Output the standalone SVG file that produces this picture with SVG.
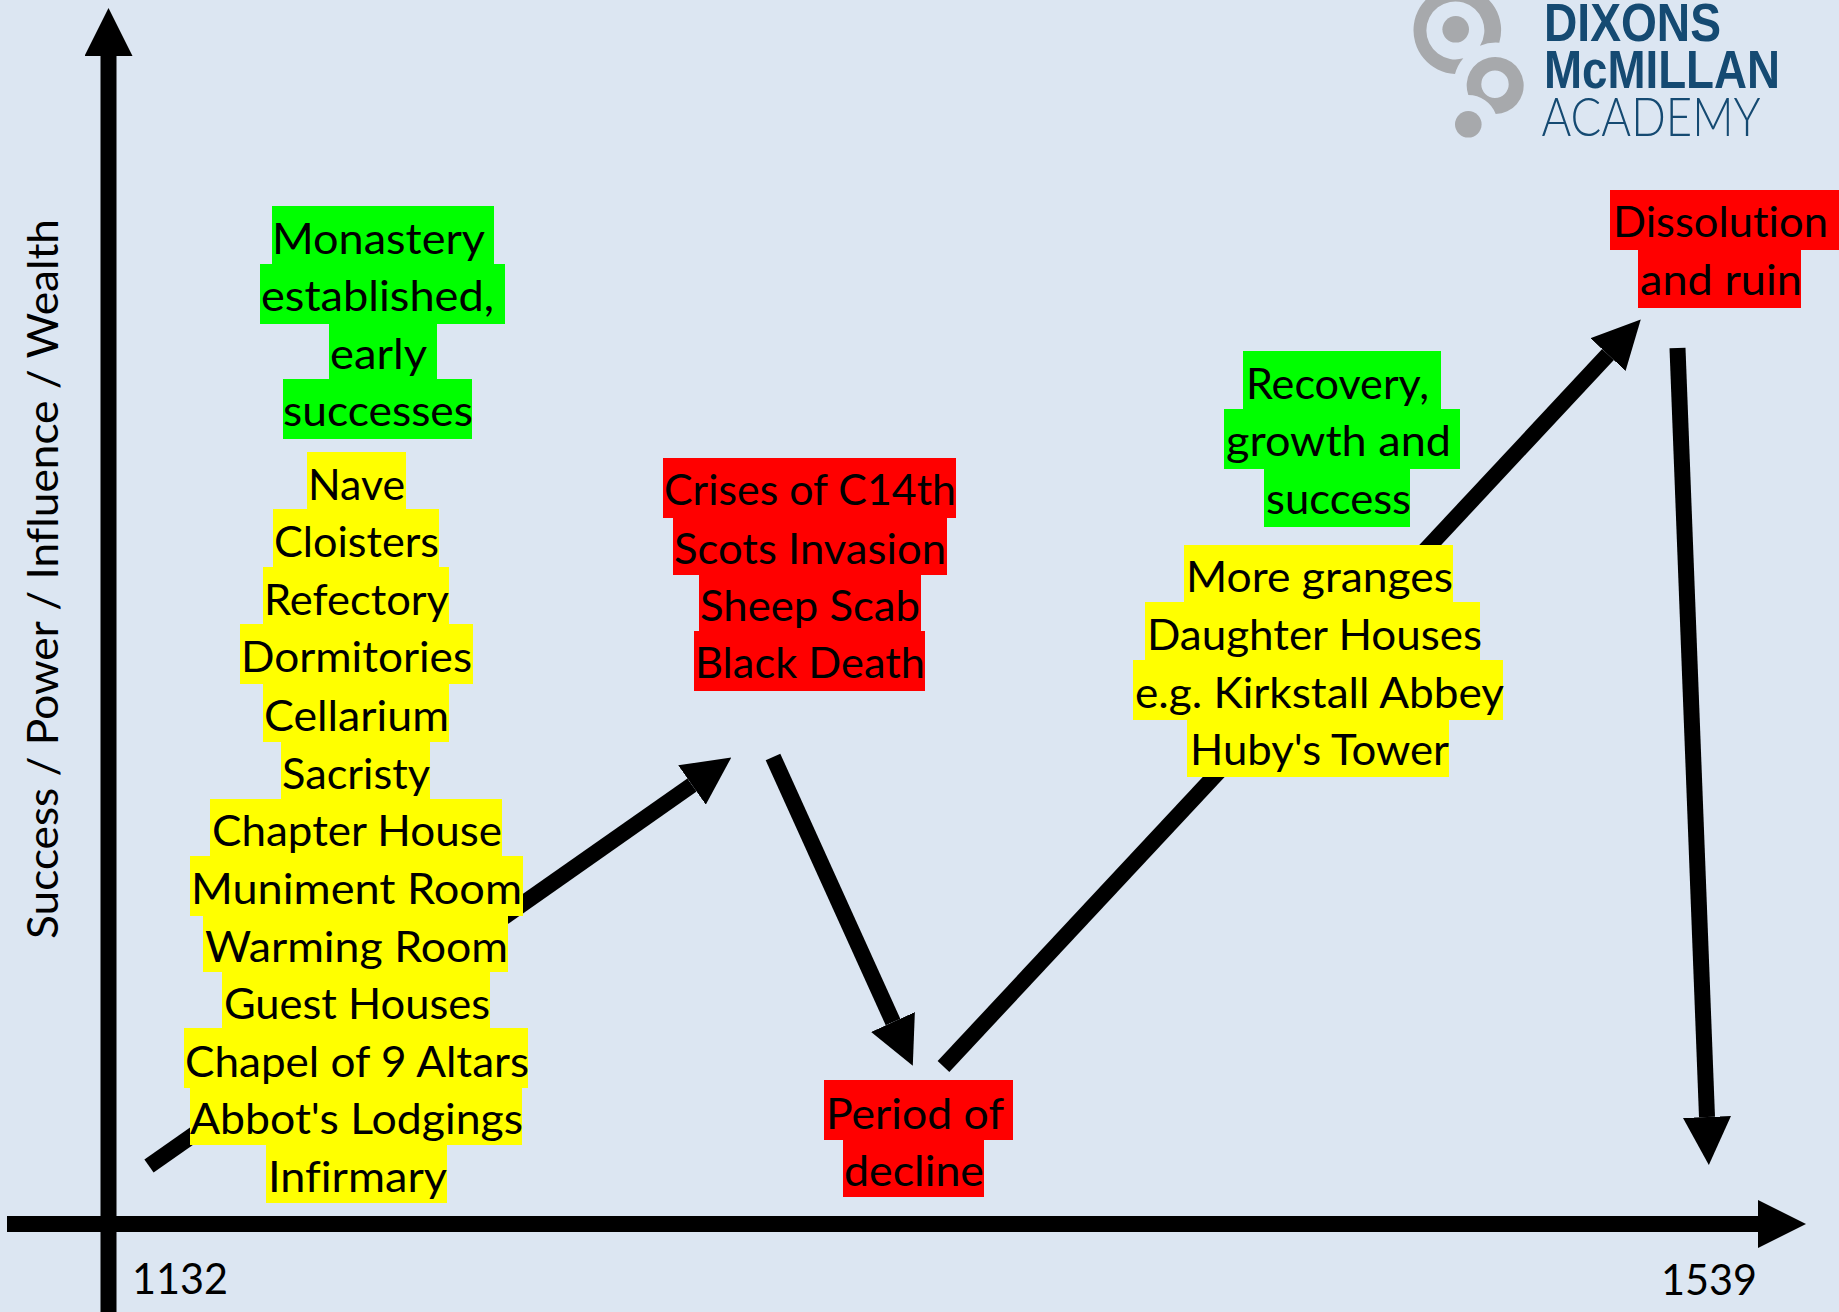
<svg xmlns="http://www.w3.org/2000/svg" width="1839" height="1312" viewBox="0 0 1839 1312">
<style>
text{font-family:Lato,"Liberation Sans",sans-serif;font-size:43px;fill:#000;font-variant-ligatures:none}
.g{fill:#00ff00}.y{fill:#ffff00}.r{fill:#ff0000}
.c{stroke:#000;stroke-width:16;fill:none;marker-end:url(#ah)}
.ld{fill:#a7a9ac;fill-rule:evenodd}
.b{font-family:"Liberation Sans",sans-serif;font-weight:700;font-size:53px;fill:#154a72}
.t{font-family:Lato,"Liberation Sans",sans-serif;font-weight:300;font-size:54px;fill:#154a72}
</style>
<defs>
<marker id="ah" viewBox="0 0 3 3" refX="0" refY="1.5" markerWidth="3" markerHeight="3" orient="auto" markerUnits="strokeWidth"><path d="M0,0L3,1.5L0,3z" fill="#000"/></marker>
</defs>
<rect width="1839" height="1312" fill="#dce6f2"/>
<g id="connectors">
<line class="c" x1="108.5" y1="1312" x2="108.5" y2="56"/>
<line class="c" x1="7" y1="1224" x2="1758" y2="1224"/>
<line class="c" x1="149" y1="1166" x2="692" y2="785"/>
<line class="c" x1="773" y1="757" x2="893" y2="1022"/>
<line class="c" x1="943.5" y1="1066.5" x2="1608" y2="354.5"/>
<line class="c" x1="1677.5" y1="348" x2="1707" y2="1117"/>
</g>
<g id="logo">
<path class="ld" d="M1499.3,42.7A43.8,43.8 0 1 0 1455,74A41.3,41.3 0 0 1 1463.3,58.3A29,29 0 1 1 1480,45.7A41.3,41.3 0 0 1 1499.3,42.7Z"/>
<path class="ld" d="M1468.3,95A28.5,28.5 0 1 1 1495.7,114A29.3,29.3 0 0 0 1468.3,95ZM1508.7,84.3A13.7,13.7 0 1 0 1481.3,84.3A13.7,13.7 0 1 0 1508.7,84.3Z"/>
<circle class="ld" cx="1455.7" cy="29.3" r="13.3"/>
<circle class="ld" cx="1468.3" cy="124.3" r="13.3"/>
<text class="b" x="1544" y="40.7" textLength="177" lengthAdjust="spacingAndGlyphs">DIXONS</text>
<text class="b" x="1544" y="88" textLength="236" lengthAdjust="spacingAndGlyphs">McMILLAN</text>
<text class="t" x="1541.5" y="135.7" textLength="219" lengthAdjust="spacingAndGlyphs">ACADEMY</text>
</g>
<g id="axis-labels">
<text transform="translate(58 939) rotate(-90)" textLength="720" lengthAdjust="spacingAndGlyphs">Success / Power / Influence / Wealth</text>
<text x="132" y="1294" textLength="96" lengthAdjust="spacingAndGlyphs">1132</text>
<text x="1661" y="1295" textLength="96" lengthAdjust="spacingAndGlyphs">1539</text>
</g>
<g id="monastery">
<rect class="g" x="272" y="206" width="222" height="58"/><rect class="g" x="260" y="264" width="245" height="60"/><rect class="g" x="329" y="324" width="108" height="55"/><rect class="g" x="283" y="379" width="189" height="60"/>
<text x="272" y="254" textLength="213" lengthAdjust="spacingAndGlyphs">Monastery</text>
<text x="261" y="311" textLength="233" lengthAdjust="spacingAndGlyphs">established,</text>
<text x="330" y="368.5" textLength="97" lengthAdjust="spacingAndGlyphs">early</text>
<text x="283" y="426" textLength="190" lengthAdjust="spacingAndGlyphs">successes</text>
</g>
<g id="buildings">
<rect class="y" x="307" y="452" width="99" height="57"/><rect class="y" x="273" y="509" width="166" height="58"/><rect class="y" x="263" y="567" width="186" height="57"/><rect class="y" x="240" y="624" width="233" height="60"/><rect class="y" x="263" y="684" width="186" height="58"/><rect class="y" x="281" y="742" width="149" height="57"/><rect class="y" x="210" y="799" width="292" height="57"/><rect class="y" x="190" y="856" width="333" height="60"/><rect class="y" x="203" y="916" width="305" height="56"/><rect class="y" x="222" y="972" width="268" height="56"/><rect class="y" x="184" y="1028" width="344" height="60"/><rect class="y" x="190" y="1088" width="332" height="57"/><rect class="y" x="266" y="1145" width="181" height="58"/>
<text x="308" y="499.6" textLength="97" lengthAdjust="spacingAndGlyphs">Nave</text>
<text x="274" y="557" textLength="165" lengthAdjust="spacingAndGlyphs">Cloisters</text>
<text x="264" y="614.6" textLength="185" lengthAdjust="spacingAndGlyphs">Refectory</text>
<text x="241" y="672" textLength="231" lengthAdjust="spacingAndGlyphs">Dormitories</text>
<text x="264" y="731" textLength="185" lengthAdjust="spacingAndGlyphs">Cellarium</text>
<text x="282" y="789" textLength="148" lengthAdjust="spacingAndGlyphs">Sacristy</text>
<text x="212" y="846" textLength="290" lengthAdjust="spacingAndGlyphs">Chapter House</text>
<text x="191" y="904" textLength="331" lengthAdjust="spacingAndGlyphs">Muniment Room</text>
<text x="205" y="962" textLength="303" lengthAdjust="spacingAndGlyphs">Warming Room</text>
<text x="224" y="1019" textLength="266" lengthAdjust="spacingAndGlyphs">Guest Houses</text>
<text x="185" y="1077" textLength="344" lengthAdjust="spacingAndGlyphs">Chapel of 9 Altars</text>
<text x="190" y="1134" textLength="333" lengthAdjust="spacingAndGlyphs">Abbot's Lodgings</text>
<text x="268" y="1192" textLength="179" lengthAdjust="spacingAndGlyphs">Infirmary</text>
</g>
<g id="crises">
<rect class="r" x="663" y="458" width="293" height="60"/><rect class="r" x="673" y="518" width="274" height="57"/><rect class="r" x="699" y="575" width="222" height="56"/><rect class="r" x="694" y="631" width="231" height="60"/>
<text x="664" y="505" textLength="292" lengthAdjust="spacingAndGlyphs">Crises of C14th</text>
<text x="674" y="563.7" textLength="272" lengthAdjust="spacingAndGlyphs">Scots Invasion</text>
<text x="700" y="621" textLength="220" lengthAdjust="spacingAndGlyphs">Sheep Scab</text>
<text x="695" y="678" textLength="230" lengthAdjust="spacingAndGlyphs">Black Death</text>
</g>
<g id="decline">
<rect class="r" x="824" y="1080" width="189" height="60"/><rect class="r" x="843" y="1140" width="141" height="57"/>
<text x="826" y="1128.7" textLength="178" lengthAdjust="spacingAndGlyphs">Period of</text>
<text x="844" y="1186" textLength="140" lengthAdjust="spacingAndGlyphs">decline</text>
</g>
<g id="recovery">
<rect class="g" x="1243" y="351" width="198" height="58"/><rect class="g" x="1224" y="409" width="236" height="60"/><rect class="g" x="1264" y="469" width="146" height="58"/>
<text x="1246" y="398.7" textLength="183" lengthAdjust="spacingAndGlyphs">Recovery,</text>
<text x="1226" y="456" textLength="225" lengthAdjust="spacingAndGlyphs">growth and</text>
<text x="1266" y="514" textLength="145" lengthAdjust="spacingAndGlyphs">success</text>
</g>
<g id="granges">
<rect class="y" x="1184" y="545" width="269" height="57"/><rect class="y" x="1145" y="602" width="335" height="58"/><rect class="y" x="1133" y="660" width="370" height="60"/><rect class="y" x="1187" y="720" width="262" height="57"/>
<text x="1186" y="592" textLength="267" lengthAdjust="spacingAndGlyphs">More granges</text>
<text x="1147" y="650" textLength="335" lengthAdjust="spacingAndGlyphs">Daughter Houses</text>
<text x="1135" y="708" textLength="369" lengthAdjust="spacingAndGlyphs">e.g. Kirkstall Abbey</text>
<text x="1190" y="765" textLength="259" lengthAdjust="spacingAndGlyphs">Huby's Tower</text>
</g>
<g id="dissolution">
<rect class="r" x="1610" y="190" width="229" height="60"/><rect class="r" x="1638" y="250" width="163" height="58"/>
<text x="1613" y="237" textLength="215" lengthAdjust="spacingAndGlyphs">Dissolution</text>
<text x="1640" y="295" textLength="162" lengthAdjust="spacingAndGlyphs">and ruin</text>
</g>
</svg>
